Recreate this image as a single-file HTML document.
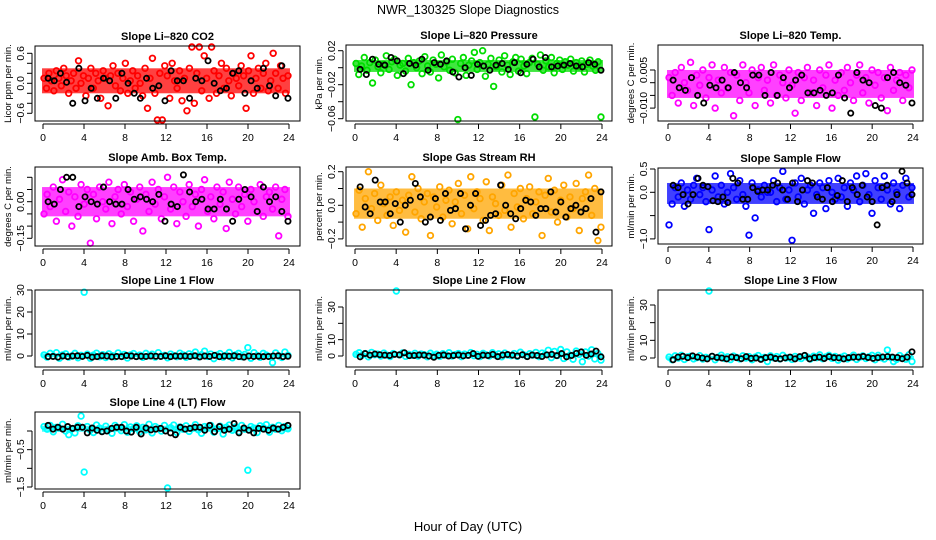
<!DOCTYPE html>
<html><head><meta charset="utf-8"><style>
html,body{margin:0;padding:0;background:#fff;}
svg{display:block;font-family:"Liberation Sans",sans-serif;}
</style></head><body>
<svg id="chart" width="936" height="540" viewBox="0 0 936 540">
<text x="468" y="14" text-anchor="middle" font-size="12.5">NWR_130325  Slope Diagnostics</text>
<text x="468" y="531" text-anchor="middle" font-size="13">Hour of Day (UTC)</text>
</svg>
<script>
const co2Vals=[0.1,-0.1,0.2,0.05,-0.15,0.25,0.1,-0.05,0.3,0.15,-0.2,0.05,0.2,-0.1,0.45,0.0,0.15,-0.25,0.1,0.3,-0.1,0.2,0.05,-0.3,0.25,0.1,-0.45,0.15,0.35,-0.05,0.2,-0.15,0.1,0.4,-0.2,0.05,0.25,-0.1,0.15,0.0,-0.25,0.3,-0.5,0.1,0.5,-0.2,-0.8,0.2,-0.8,0.35,0.15,-0.3,0.4,0.05,-0.1,0.25,-0.35,0.1,-0.55,0.3,0.8,-0.4,0.2,0.75,-0.15,0.55,0.1,-0.3,0.8,0.25,-0.2,0.15,0.4,-0.1,0.3,0.05,-0.25,0.2,0.1,-0.05,0.35,0.15,-0.5,0.25,0.55,-0.2,0.1,0.3,-0.1,0.2,0.4,-0.15,0.05,0.6,0.2,-0.1,0.35,0.1,-0.2,0.15];
const co2Black=[0.1,0.05,0.2,0.02,-0.4,0.3,-0.35,-0.1,-0.3,0.1,0.05,-0.3,0.2,0.0,-0.2,-0.3,0.1,-0.1,-0.05,-0.35,0.25,0.05,0.05,-0.3,0.1,0.05,0.45,0.0,-0.15,-0.1,0.2,0.25,-0.2,0.05,-0.1,0.3,-0.05,-0.25,0.35,-0.3];
const presVals=[0.005,-0.008,0.002,0.012,-0.003,0.006,-0.018,0.009,0.001,-0.006,0.004,0.014,-0.002,0.007,0.010,-0.009,0.003,0.005,-0.004,0.011,-0.020,0.006,0.000,0.008,-0.007,0.013,0.002,-0.005,0.009,0.004,-0.012,0.015,0.001,0.007,-0.003,0.010,-0.006,-0.061,0.005,0.012,-0.009,0.003,0.008,0.018,-0.002,0.006,0.020,-0.010,0.004,0.011,-0.022,0.001,0.009,-0.005,0.014,0.003,-0.008,0.007,0.012,-0.004,0.010,0.002,-0.007,0.006,0.011,-0.058,0.004,0.015,-0.003,0.008,0.001,0.012,-0.006,0.005,0.009,-0.002,0.007,0.003,0.010,-0.004,0.006,0.001,0.008,-0.005,0.004,0.009,0.002,-0.003,0.007,-0.058];
const presBlack=[-0.002,-0.008,0.010,0.004,0.003,0.012,0.008,-0.007,0.005,0.003,0.010,-0.003,0.006,0.004,0.008,-0.005,-0.011,0.000,-0.009,0.004,0.002,-0.003,0.003,0.005,-0.002,0.006,-0.006,0.004,0.010,0.001,0.012,0.001,0.002,0.003,0.005,0.002,0.001,0.006,0.004,-0.003];
const tempVals=[0.002,-0.005,0.004,-0.008,0.006,0.000,-0.003,0.008,-0.009,0.003,-0.001,0.005,-0.006,0.002,0.007,-0.010,0.001,-0.004,0.006,-0.002,0.004,-0.013,0.003,-0.007,0.007,0.000,-0.004,0.005,-0.009,0.002,0.006,-0.003,0.001,-0.008,0.007,-0.005,0.003,0.000,-0.006,0.005,-0.001,-0.012,0.004,-0.007,0.002,0.006,-0.004,0.001,-0.009,0.005,-0.002,0.003,0.007,-0.010,0.001,-0.005,0.004,-0.003,0.006,0.000,-0.007,0.003,0.007,-0.004,0.002,-0.008,0.005,-0.001,0.004,-0.006,0.002,-0.011,0.006,-0.003,0.001,0.004,-0.007,0.003,-0.002,0.005];
const tempBlack=[0.001,-0.002,-0.003,0.002,-0.005,-0.008,-0.001,-0.002,0.001,-0.002,0.004,0.000,-0.002,0.003,0.003,-0.005,0.004,-0.005,0.002,-0.002,0.001,0.003,-0.004,-0.004,-0.003,-0.005,-0.004,0.003,-0.006,-0.012,0.004,0.001,0.000,-0.009,-0.010,0.002,0.004,0.000,-0.001,-0.008];
const boxVals=[-0.05,0.03,-0.02,0.06,-0.08,0.01,0.09,-0.04,0.04,-0.1,0.02,-0.06,0.07,-0.01,0.05,-0.17,0.03,-0.07,0.06,0.0,-0.03,0.08,-0.09,0.02,0.05,-0.05,0.07,-0.02,0.04,-0.08,0.01,0.06,-0.12,0.03,-0.04,0.08,-0.01,0.05,-0.07,0.02,0.1,-0.03,0.06,-0.09,0.04,0.0,-0.06,0.07,-0.02,0.03,-0.1,0.05,0.09,-0.04,0.02,-0.07,0.06,-0.01,0.04,-0.11,0.08,0.01,-0.05,0.06,-0.02,0.03,-0.08,0.05,0.0,-0.04,0.07,-0.06,0.02,0.04,-0.03,0.06,-0.14,0.01,0.05,-0.06];
const boxBlack=[0.0,-0.01,0.05,0.1,0.1,-0.02,0.02,0.0,-0.01,0.06,0.0,-0.01,-0.01,0.05,0.01,0.02,0.01,0.0,0.03,-0.08,-0.01,-0.02,0.11,0.04,0.0,0.01,-0.03,-0.03,0.01,-0.03,-0.08,0.01,0.05,0.02,-0.04,0.06,0.0,0.02,-0.04,-0.08];
const rhVals=[-0.05,0.09,-0.13,0.04,0.2,-0.02,0.07,-0.09,0.12,0.01,-0.06,0.05,-0.12,0.08,-0.03,0.03,-0.16,0.06,0.17,-0.04,0.1,-0.08,0.02,0.07,-0.18,0.05,-0.01,0.11,-0.07,0.03,0.09,-0.11,0.02,0.13,-0.05,0.06,-0.14,0.17,-0.02,0.08,0.04,-0.09,0.14,-0.15,0.05,0.01,-0.06,0.12,-0.03,0.18,-0.13,0.07,-0.01,0.1,-0.08,0.04,0.11,-0.05,0.02,0.08,-0.18,0.06,0.16,-0.04,0.09,-0.1,0.03,0.12,-0.07,0.05,-0.02,0.13,-0.15,0.04,0.08,0.18,-0.06,0.1,-0.21,-0.13];
const rhBlack=[0.11,-0.01,-0.05,0.15,0.02,0.02,-0.05,0.01,-0.1,0.0,0.03,0.13,0.05,-0.1,-0.07,0.04,-0.09,0.07,-0.03,-0.02,0.07,-0.14,0.0,0.07,-0.12,-0.09,-0.06,-0.05,0.12,0.0,-0.05,-0.08,-0.02,0.03,0.02,-0.06,-0.02,-0.02,0.08,-0.04,0.02,-0.07,-0.02,0.0,-0.04,-0.02,0.04,-0.16,0.08];
const flowVals=[-0.7,-0.25,0.1,-0.1,0.2,-0.3,0.05,-0.15,0.15,0.3,-0.05,0.1,-0.2,-0.8,0.05,0.35,-0.1,0.15,-0.25,0.0,0.4,0.1,-0.15,0.25,-0.05,-0.3,-0.92,0.2,-0.55,0.05,-0.1,0.15,0.0,0.0,0.25,-0.2,0.1,0.45,-0.15,0.05,-1.03,0.2,-0.1,0.3,-0.25,0.05,0.15,-0.45,-0.05,0.2,0.1,-0.35,0.25,0.0,-0.15,0.3,-0.1,0.1,-0.3,0.2,0.05,0.35,-0.2,0.15,0.4,-0.05,-0.45,0.25,0.1,-0.15,0.35,0.05,-0.25,0.2,0.0,-0.35,0.15,0.3,-0.1,0.1];
const flowBlack=[0.15,0.1,-0.05,-0.25,-0.05,0.3,0.15,0.12,-0.18,-0.2,-0.1,-0.22,0.3,0.2,-0.15,-0.15,0.1,0.02,0.05,0.05,0.15,0.2,0.05,-0.15,0.2,-0.2,0.05,0.25,0.2,-0.1,-0.15,0.1,-0.2,-0.07,0.25,-0.2,0.1,-0.05,0.15,-0.1,-0.2,-0.7,0.1,0.15,-0.2,-0.05,0.45,0.2,-0.05];
const line1Vals=[0.5,-0.5,1.2,0,1.5,-1,0.5,1,-0.5,0,1.2,-0.8,0.3,29,0.8,-1,0.4,1.3,-0.3,0.6,-0.7,1,0.2,-0.4,1.4,0,0.7,-0.9,0.5,1.1,-0.2,0.4,-0.6,1.2,0.1,0.8,-0.5,1.5,0,0.3,-0.8,0.9,0.2,-0.3,1.3,0.5,-0.6,1,0.2,1.8,-0.4,0.6,2.2,-0.2,0.9,-1.2,0.4,1.1,-0.5,0.3,1.6,-0.8,0.5,1.2,-0.3,0.7,3.8,-1,1.5,0.2,-0.6,1.2,0.4,-0.2,-3,1.4,0.1,-0.7,1.8,0.3];
const line1Black=[-0.3,-0.2,-0.5,0,-0.3,0,0.1,-0.2,0.3,-0.5,-0.3,0.1,0,-0.4,-0.2,-0.3,0.2,0,-0.3,-0.1,-0.2,0,-0.1,-0.2,0.1,-0.3,0,-0.1,0,-0.2,0.1,-0.4,0,-0.2,0.3,-0.3,0,-0.1,0.1,-0.3,-0.5,0,-0.2,-0.1,-0.3,-0.2,0,0.1,-0.3,-0.1];
const line2Vals=[1,2,0.5,1.5,-0.5,2.2,0.8,1.2,0,1.8,0.5,-0.3,1.5,41,0.7,1.9,-0.2,1,0.4,1.6,0,1.2,0.8,-0.5,1.7,0.3,1.1,-0.2,1.4,0.6,2,0,0.9,1.5,-0.4,1.2,0.5,2.1,0.2,1,-0.3,1.6,0.7,0,2,0.4,1.3,-0.5,1.8,0.6,0.2,1.5,-0.2,2.3,0.8,0,1.4,0.5,2.2,-0.4,1.8,1,3.5,-1,2.8,0.3,4,-1.5,2.5,0.5,-2,3,1,-3.5,2.5,0,3.8,-1.8,1.5,-2.5];
const line2Black=[-0.5,1.5,0.5,1.2,0.8,0.5,0.3,1,0.7,2,0.2,0.3,0.6,0.5,0,-0.8,0.4,0.6,0,0.3,0.6,0.1,0.4,1.5,-0.2,0.5,0.3,1,-0.4,0.6,0.9,0.5,0,0.8,-0.4,0.6,0.3,-0.3,0.7,1,0.2,1.5,-0.5,0.3,1.6,2.5,0.4,1.2,3,-0.5];
const line3Vals=[0.5,-1,1.2,0,1.5,-0.8,0.6,1,-0.5,0.2,1.3,-0.6,0.4,38,0.9,-1,0.5,1.6,-0.3,0.7,-0.9,1.1,0.3,-0.5,1.2,0,0.8,-1,0.5,1.4,-0.2,0.4,-2,1.2,0.1,0.8,-0.5,1.5,0,0.3,-0.8,0.9,0.2,-0.3,1.3,0.5,-0.6,1,0.2,1.8,-0.4,0.6,1.5,-0.2,0.9,-1.2,0.4,1.1,-0.5,0.3,1.6,-0.8,0.5,1.2,-0.3,0.7,1.5,-1,1.5,0.2,-0.6,4.5,0.4,-2,-0.8,1.4,0.1,-0.7,1.8,-2];
const line3Black=[-1,0.5,1,0.2,1.2,0.5,0,-0.5,1,0.3,0,-0.5,0.6,0.2,-0.4,0.8,-0.2,0,-0.8,0.2,0.5,-0.3,-0.5,0.1,0.5,-0.5,0.8,1.5,-0.5,0.2,0.5,-0.3,0.8,0.2,0.1,-0.5,0.2,0.5,0.5,0.9,0.3,-0.2,0.2,0.6,0.8,0.5,0.3,-0.4,0.5,3.5];
const line4Vals=[0.12,0.05,0.15,-0.02,0.1,0.08,0.18,0,-0.1,0.06,-0.05,0.14,0.4,-1.1,0.12,0.02,-0.04,0.16,0.08,0.0,0.13,0.04,-0.06,0.15,0.09,0.01,0.17,-0.03,0.11,0.06,0.14,-0.02,0.1,0.03,0.18,-0.05,0.12,0.07,0.0,0.15,-1.55,0.09,0.16,-0.04,0.11,0.05,0.14,-0.01,0.08,0.17,0.03,-0.06,0.12,0.1,0.15,-0.03,0.06,0.13,-0.08,0.1,0.16,0.02,0.11,-0.02,0.15,0.05,-1.05,0.12,0.08,-0.04,0.14,0.09,0.17,-0.03,0.1,0.05,0.15,0.01,0.12,0.06];
const line4Black=[0.15,0.05,0.1,0.05,0.12,0.07,0.1,0.1,-0.05,0.08,0.02,-0.02,0,0.07,0.1,0.1,0,-0.03,0.1,-0.08,0.08,0.03,0.05,0.07,0,-0.05,-0.1,0.1,0.05,0.07,0.1,0.1,0.02,0.15,-0.02,0.12,0.02,0.05,0.2,-0.05,0.08,0.02,-0.05,0.07,0.05,0.02,0.08,0.05,0.1,0.15];
const xTicks=[0,4,8,12,16,20,24];

const NS="http://www.w3.org/2000/svg";
const svg=document.getElementById('chart');
function mk(tag,attrs,parent){const e=document.createElementNS(NS,tag);for(const k in attrs)e.setAttribute(k,attrs[k]);(parent||svg).appendChild(e);return e;}
function pct(arr,q){const s=[...arr].sort((a,b)=>a-b);return s[Math.floor(q*(s.length-1))];}

const panels=[
 {name:'co2',title:'Slope Li\u2013820 CO2',ylab:'Licor ppm per min.',box:[35,300,46,121],xp:[43,289],yr:[0,83.3,0.6,53.3],ticks:[-0.6,-0.4,-0.2,0,0.2,0.4,0.6],labels:{'-0.6':'\u22120.6','0':'0.0','0.6':'0.6'},vals:co2Vals,blk:co2Black,col:'#ff0000'},
 {name:'pressure',title:'Slope Li\u2013820 Pressure',ylab:'kPa per min.',box:[346,612,45,121],xp:[355,602],yr:[0,67.7,0.02,50.7],ticks:[-0.06,-0.04,-0.02,0,0.02],labels:{'-0.06':'\u22120.06','-0.02':'\u22120.02','0.02':'0.02'},vals:presVals,blk:presBlack,col:'#00dd00'},
 {name:'li820-temp',title:'Slope Li\u2013820 Temp.',ylab:'degrees C per min.',box:[658,923,45,121],xp:[668,913],yr:[0,82.7,0.005,70],ticks:[-0.01,-0.005,0,0.005],labels:{'-0.01':'\u22120.010','0.005':'0.005'},vals:tempVals,blk:tempBlack,col:'#ff00ff'},
 {name:'amb-box-temp',title:'Slope Amb. Box Temp.',ylab:'degrees C per min.',box:[35,300,167,246],xp:[43,289],yr:[0,201.7,-0.15,238.3],ticks:[-0.15,-0.1,-0.05,0,0.05,0.1],labels:{'-0.15':'\u22120.15','0':'0.00'},vals:boxVals,blk:boxBlack,col:'#ff00ff'},
 {name:'gas-stream-rh',title:'Slope Gas Stream RH',ylab:'percent per min.',box:[346,612,167,246],xp:[355,602],yr:[0,205.3,0.2,171.7],ticks:[-0.2,-0.1,0,0.1,0.2],labels:{'-0.2':'\u22120.2','0':'0.0','0.2':'0.2'},vals:rhVals,blk:rhBlack,col:'#ffa500'},
 {name:'sample-flow',title:'Slope Sample Flow',ylab:'ml/min per min.',box:[658,923,168,244],xp:[668,913],yr:[0,192.3,0.5,169],ticks:[-1,-0.5,0,0.5],labels:{'-1':'\u22121.0','0':'0.0','0.5':'0.5'},vals:flowVals,blk:flowBlack,col:'#0000ff'},
 {name:'line1-flow',title:'Slope Line 1 Flow',ylab:'ml/min per min.',box:[35,300,290,367],xp:[43,289],yr:[0,356,30,290],ticks:[0,10,20,30],labels:{'0':'0','10':'10','20':'20','30':'30'},vals:line1Vals,blk:line1Black,col:'#00ffff'},
 {name:'line2-flow',title:'Slope Line 2 Flow',ylab:'ml/min per min.',box:[346,612,290,367],xp:[355,602],yr:[0,356,30,307],ticks:[0,10,20,30],labels:{'0':'0','10':'10','30':'30'},vals:line2Vals,blk:line2Black,col:'#00ffff'},
 {name:'line3-flow',title:'Slope Line 3 Flow',ylab:'ml/min per min.',box:[658,923,290,367],xp:[668,913],yr:[0,358,30,305],ticks:[0,10,20,30],labels:{'0':'0','10':'10','30':'30'},vals:line3Vals,blk:line3Black,col:'#00ffff'},
 {name:'line4-flow',title:'Slope Line 4 (LT) Flow',ylab:'ml/min per min.',box:[35,300,412,489],xp:[43,289],yr:[0,431,-1.5,487],ticks:[-1.5,-1,-0.5,0],labels:{'-1.5':'\u22121.5','-0.5':'\u22120.5'},vals:line4Vals,blk:line4Black,col:'#00ffff'}
];

panels.forEach(p=>{
  const g=mk('g',{});
  
  
  const [x0,x1,y0,y1]=p.box;
  const xs=h=>p.xp[0]+(p.xp[1]-p.xp[0])*h/24;
  const ys=v=>p.yr[1]+(v-p.yr[0])*(p.yr[3]-p.yr[1])/(p.yr[2]-p.yr[0]);
  const cl=y=>Math.max(y0+1,Math.min(y1-1,y));
  const t=mk('text',{x:(x0+x1)/2,y:y0-6,'text-anchor':'middle','font-size':'11','font-weight':'bold'},g);
  t.textContent=p.title;
  
  
  const yl=mk('text',{transform:`translate(${x0-24},${(y0+y1)/2}) rotate(-90)`,'text-anchor':'middle','font-size':'9.5'},g);
  yl.textContent=p.ylab;
  
  
  // dense core band (interquartile-ish range of the colored series)
  const lo=ys(pct(p.vals,0.2)), hi=ys(pct(p.vals,0.8));
  const band=mk('rect',{x:xs(0.1)-2,y:Math.min(lo,hi),width:xs(23.9)-xs(0.1)+4,height:Math.abs(lo-hi),fill:p.col,opacity:0.75},g);
  
  
  const n=p.vals.length;
  p.vals.forEach((v,i)=>{
    const h=0.1+23.8*i/(n-1);
    const c=mk('circle',{cx:xs(h),cy:cl(ys(v)),r:2.8,fill:'none',stroke:p.col,'stroke-width':1.8},g);
    
    
  });
  const m=p.blk.length;
  p.blk.forEach((v,i)=>{
    const h=0.5+23.4*i/(m-1);
    const c=mk('circle',{cx:xs(h),cy:cl(ys(v)),r:2.6,fill:'none',stroke:'#000','stroke-width':1.8},g);
    
    
  });
  const bx=mk('rect',{x:x0,y:y0,width:x1-x0,height:y1-y0,fill:'none',stroke:'#000','stroke-width':1},g);
  
  
  mk('line',{x1:xs(0),x2:xs(24),y1:y1+3,y2:y1+3,stroke:'#000'},g);
  xTicks.forEach(h=>{
    mk('line',{x1:xs(h),x2:xs(h),y1:y1+3,y2:y1+8,stroke:'#000'},g);
    const lt=mk('text',{x:xs(h),y:y1+20,'text-anchor':'middle','font-size':'10.5'},g);
    lt.textContent=String(h);
    
    
  });
  const yt=p.ticks.map(ys);
  mk('line',{x1:x0-3,x2:x0-3,y1:Math.min(...yt),y2:Math.max(...yt),stroke:'#000'},g);
  p.ticks.forEach(v=>{
    const y=ys(v);
    mk('line',{x1:x0-8,x2:x0-3,y1:y,y2:y,stroke:'#000'},g);
    const lab=p.labels[String(v)];
    if(lab!==undefined){
      const lt=mk('text',{transform:`translate(${x0-11},${y}) rotate(-90)`,'text-anchor':'middle','font-size':'10.5'},g);
      lt.textContent=lab;
      
      
    }
  });
});
</script>
</body></html>
